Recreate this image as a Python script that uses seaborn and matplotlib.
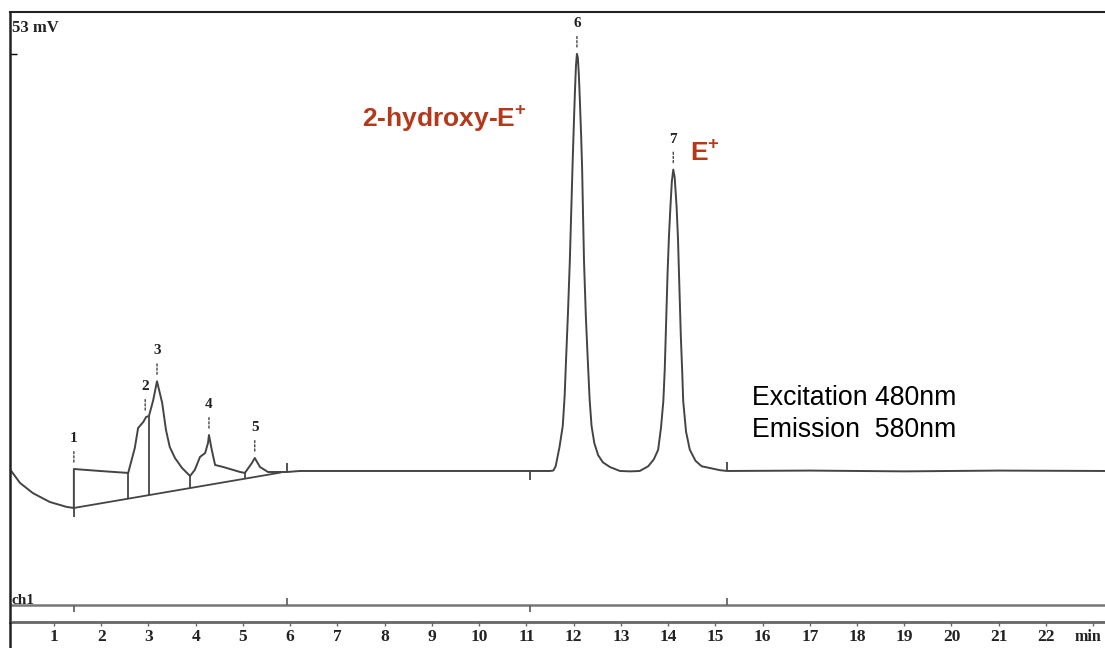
import numpy as np
import pandas as pd
import matplotlib
matplotlib.use("Agg")
import matplotlib.pyplot as plt
import seaborn as sns
from matplotlib.lines import Line2D
from matplotlib.transforms import ScaledTranslation

# ---------------- data ----------------
# detector trace (time in min, signal in mV)
trace_t = [
    0.07, 0.11, 0.28, 0.55, 0.91, 1.27, 1.42, 1.42, 1.97, 2.57,
    2.71, 2.78, 2.89, 2.95, 3.01, 3.10, 3.18, 3.29, 3.37, 3.45,
    3.56, 3.71, 3.88, 3.98, 4.09, 4.20, 4.26, 4.28, 4.34, 4.41,
    4.58, 4.94, 5.04, 5.19, 5.25, 5.36, 5.53, 5.93, 6.21, 8.00,
    11.00, 11.50,
    11.57, 11.62, 11.65, 11.70, 11.77, 11.81, 11.84, 11.88, 11.92, 11.95,
    11.98, 12.01, 12.03, 12.05, 12.07, 12.09, 12.11, 12.13, 12.16, 12.18,
    12.20, 12.22, 12.26, 12.30, 12.34, 12.38, 12.44, 12.52, 12.62, 12.77,
    12.98, 13.20, 13.40,
    13.58, 13.70, 13.79, 13.85, 13.90, 13.93, 13.95, 13.97, 13.99, 14.02,
    14.05, 14.08, 14.11, 14.14, 14.18, 14.21, 14.23, 14.25, 14.27, 14.30,
    14.32, 14.38, 14.46, 14.58, 14.71, 15.10, 15.25, 17.00, 19.00, 21.00,
    23.25,
]
trace_mv = [
    0.13, -0.13, -1.52, -2.80, -3.94, -4.57, -4.70, 0.25, 0.00, -0.25,
    2.92, 5.46, 6.23, 6.86, 6.99, 9.00, 11.40, 8.64, 5.21, 3.05,
    1.65, 0.38, -0.64, 0.13, 1.78, 2.29, 3.56, 4.57, 2.67, 0.76,
    0.51, -0.13, -0.25, 1.02, 1.65, 0.51, -0.13, -0.13, 0.00, 0.00,
    0.00, 0.00,
    0.05, 0.60, 1.50, 3.00, 5.70, 9.50, 14.10, 20.00, 26.70, 33.00,
    39.30, 45.00, 48.50, 51.50, 53.00, 52.50, 50.50, 47.50, 42.50, 38.50,
    32.50, 26.70, 19.50, 14.10, 9.00, 5.70, 3.50, 2.00, 1.10, 0.50,
    0.00, -0.05, 0.00,
    0.60, 1.50, 2.70, 5.50, 8.90, 13.00, 17.10, 21.20, 25.30, 30.00,
    33.60, 36.80, 38.30, 37.30, 33.60, 29.50, 25.30, 21.20, 17.10, 12.50,
    8.90, 5.00, 2.70, 1.30, 0.60, 0.10, 0.00, 0.05, -0.05, 0.05,
    0.00,
]

# second channel (ch1) trace
ch1_t = [0.07, 23.25]
ch1_mv = [-17.0, -17.0]

# integration baseline under the early peaks
integ_t = [1.42, 5.80]
integ_mv = [-4.70, -0.20]

# peak drop lines (split points between early peaks)
drop_t = [2.57, 3.01, 3.88, 5.04]

# integration events: time, trace level, direction of tick
event_t = [1.42, 5.93, 11.07, 15.25]
event_mv = [-4.70, -0.13, 0.00, 0.00]
event_dir = [-1, 1, -1, 1]

# numbered peaks
peak_ids = ["1", "2", "3", "4", "5", "6", "7"]
peak_t = [1.42, 2.93, 3.18, 4.28, 5.25, 12.07, 14.11]
peak_mv = [0.25, 6.86, 11.40, 4.57, 1.65, 53.00, 38.30]

# time axis ticks
tick_pos = list(range(1, 24))
tick_labels = [str(i) for i in range(1, 23)] + ["min"]

full_scale_mv = 53

# ---------------- style ----------------
sns.set_theme(style="white")
plt.rcParams["font.family"] = ["Liberation Sans", "DejaVu Sans"]
plt.rcParams["mathtext.fontset"] = "custom"
plt.rcParams["mathtext.rm"] = "Liberation Sans"
plt.rcParams["mathtext.bf"] = "Liberation Sans:bold"

W, H = 1105, 648
fig = plt.figure(figsize=(W / 100, H / 100), dpi=100)
fig.patch.set_facecolor("white")
ax = fig.add_axes([10 / W, 1 - 622 / H, (W - 10) / W, 610 / H])
ax.set_facecolor("white")

line_col = "#444444"
red = "#b5381a"
serif = "Liberation Serif"

df = pd.DataFrame({"t": trace_t, "mv": trace_mv})
sns.lineplot(data=df, x="t", y="mv", sort=False, estimator=None,
             color=line_col, linewidth=1.4, ax=ax)

df_ch1 = pd.DataFrame({"t": ch1_t, "mv": ch1_mv})
sns.lineplot(data=df_ch1, x="t", y="mv", sort=False, estimator=None,
             color="#777777", linewidth=1.8, ax=ax)

df_int = pd.DataFrame({"t": integ_t, "mv": integ_mv})
sns.lineplot(data=df_int, x="t", y="mv", sort=False, estimator=None,
             color=line_col, linewidth=1.3, ax=ax)

# drop lines from trace to integration baseline
drop_top = np.interp(drop_t, trace_t[8:], trace_mv[8:])
drop_bot = np.interp(drop_t, integ_t, integ_mv)
ax.vlines(drop_t, drop_bot, drop_top, color=line_col, linewidth=1.3)

# event ticks on trace and on ch1
ev_t = np.array(event_t)
ev_mv = np.array(event_mv)
ev_dir = np.array(event_dir)
ax.vlines(ev_t, ev_mv, ev_mv + ev_dir * 1.2, color=line_col, linewidth=1.3)
ax.vlines(ev_t, ch1_mv[0], ch1_mv[0] + ev_dir * 0.9, color="#666666", linewidth=1.3)

# peak numbers with dotted leaders
for pid, pt, pm in zip(peak_ids, peak_t, peak_mv):
    ax.annotate("", xy=(pt, pm), xytext=(0, 12.5), textcoords="offset points",
                arrowprops=dict(arrowstyle="-", color=line_col, lw=1.0,
                                linestyle=(0, (1.5, 1.5)), shrinkA=0, shrinkB=4))
    ax.annotate(pid, xy=(pt, pm), xytext=(0, 22), textcoords="offset points",
                ha="center", va="center", fontsize=11, fontweight="bold",
                family=serif, color="#222222")

# annotations
ax.text(7.52, 44.85, r"2-hydroxy-E$^{\mathbf{+}}$", color=red, fontsize=19,
        fontweight="bold", ha="left", va="center")
ax.text(14.46, 40.5, r"E$^{\mathbf{+}}$", color=red, fontsize=19,
        fontweight="bold", ha="left", va="center")
ax.text(15.77, 9.28, "Excitation 480nm", color="black", fontsize=19.2,
        ha="left", va="center")
ax.text(15.77, 5.2, "Emission  580nm", color="black", fontsize=19.2,
        ha="left", va="center")
ax.text(0.11, 56.3, f"{full_scale_mv} mV", family=serif, fontweight="bold",
        fontsize=12, ha="left", va="center", color="#222222")
ax.text(0.11, -16.85, "ch1", family=serif, fontweight="bold",
        fontsize=11, ha="left", va="baseline", color="#222222")

# ---------------- axes ----------------
ax.set_xlim(0.068, 23.25)
ax.set_ylim(-19.19, 58.32)
ax.set_xlabel("")
ax.set_ylabel("")
ax.set_xticks(tick_pos)
ax.set_xticklabels(tick_labels)
ax.set_yticks([full_scale_mv])
ax.set_yticklabels([""])
ax.tick_params(axis="x", bottom=True, direction="out", length=3, width=1,
               color="#666666", pad=2, labelsize=12.5)
ax.tick_params(axis="y", left=True, direction="in", length=5, width=1,
               color="black", labelleft=False)
xlabels = ax.get_xticklabels()
for lbl in xlabels:
    lbl.set_fontfamily(serif)
    lbl.set_fontweight("bold")
    lbl.set_color("#222222")
# keep the unit label inside the figure edge
unit_lbl = xlabels[-1]
unit_lbl.set_fontsize(11.5)
unit_lbl.set_transform(unit_lbl.get_transform()
                       + ScaledTranslation(-0.05, 0, fig.dpi_scale_trans))

ax.spines["right"].set_visible(False)
ax.spines["top"].set_color("#222222")
ax.spines["top"].set_linewidth(1.5)
ax.spines["left"].set_color("#222222")
ax.spines["left"].set_linewidth(1.8)
ax.spines["bottom"].set_color("#666666")
ax.spines["bottom"].set_linewidth(2)

# left frame continues down to the bottom edge
fig.add_artist(Line2D([10 / W, 10 / W], [0, 1 - 622 / H],
                      transform=fig.transFigure, color="#222222", linewidth=1.8))

fig.savefig("out.png", dpi=100, facecolor="white")
